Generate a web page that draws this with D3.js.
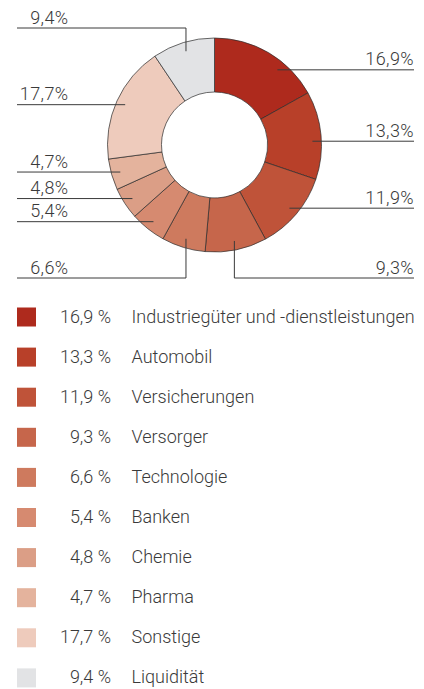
<!DOCTYPE html>
<html><head><meta charset="utf-8">
<script src="https://cdn.jsdelivr.net/npm/d3@7/dist/d3.min.js"></script>
<style>
html,body{margin:0;padding:0;background:#fff;}
svg{display:block;}
text{font-family:"Helvetica Neue",Roboto,"Liberation Sans",Arial,sans-serif;font-weight:300;fill:#3a3a3a;}
</style></head>
<body>
<svg id="chart" width="424" height="689"></svg>
<script>
// ---- data ----
const categories = ["Industriegüter und -dienstleistungen","Automobil","Versicherungen","Versorger","Technologie","Banken","Chemie","Pharma","Sonstige","Liquidität"];
const values = [16.9,13.3,11.9,9.3,6.6,5.4,4.8,4.7,17.7,9.4];
const colors = ["#AE2A1D","#B84029","#BF5339","#C6664B","#CE7A5E","#D68A70","#DB9E86","#E4B39D","#EECBBC","#E2E3E5"];

// ---- layout ----
const cx = 214.5, cy = 145, rOuter = 107, rInner = 53;
const leaderR = 98;
const leftX = 17, rightX = 414, leftLabelRight = 68.5;
const topEndY = 28, bottomEndY = 278;
// small angular nudges (degrees) of leader anchors for the first slices
const leaderShift = [9.5, 3, 0, 0, 0, 0, 0, 0, 0, 0];
const fmt = v => d3.format(".1f")(v).replace(".", ",");

const svg = d3.select("#chart");
const pie = d3.pie().value(d => d).sort(null);
const arcs = pie(values);
const arc = d3.arc().innerRadius(rInner).outerRadius(rOuter);

const g = svg.append("g").attr("transform", `translate(${cx},${cy})`);
g.selectAll("path").data(arcs).join("path")
  .attr("d", arc)
  .attr("fill", (d,i) => colors[i])
  .attr("stroke", "#2b2b2b")
  .attr("stroke-width", 0.7);

// leader lines & labels
const lab = svg.append("g");
arcs.forEach((a, i) => {
  const ang = (a.startAngle + a.endAngle) / 2 + leaderShift[i] * Math.PI / 180;
  const px = cx + leaderR * Math.sin(ang);
  const py = cy - leaderR * Math.cos(ang);
  const right = Math.sin(ang) > 0;
  const endX = right ? rightX : leftX;
  const nearVertical = Math.abs(Math.cos(ang)) > Math.cos(25 * Math.PI / 180);
  let pts, lineY;
  if (nearVertical) {
    lineY = Math.cos(ang) > 0 ? topEndY : bottomEndY;
    pts = [[px, py], [px, lineY], [endX, lineY]];
  } else {
    lineY = py;
    pts = [[px, py], [endX, py]];
  }
  lab.append("path")
    .attr("d", d3.line()(pts))
    .attr("fill", "none")
    .attr("stroke", "#3a3a3a")
    .attr("stroke-width", 1);
  lab.append("text")
    .attr("x", right ? rightX : leftLabelRight)
    .attr("y", lineY - 4.5)
    .attr("text-anchor", "end")
    .attr("font-size", 18)
    .attr("letter-spacing", 0.4)
    .text(fmt(values[i]) + "%");
});

// legend
const legendTop = 307.5, rowH = 40.1;
const lg = svg.append("g");
const rows = lg.selectAll("g").data(categories).join("g")
  .attr("transform", (d,i) => `translate(0,${legendTop + i * rowH})`);
rows.append("rect")
  .attr("x", 17).attr("y", 0).attr("width", 19).attr("height", 19)
  .attr("fill", (d,i) => colors[i]);
rows.append("text")
  .attr("x", 111).attr("y", 15)
  .attr("text-anchor", "end")
  .attr("font-size", 18)
  .text((d,i) => fmt(values[i]) + " %");
rows.append("text")
  .attr("x", 131.5).attr("y", 15)
  .attr("font-size", 18)
  .text(d => d);
</script>
</body></html>
